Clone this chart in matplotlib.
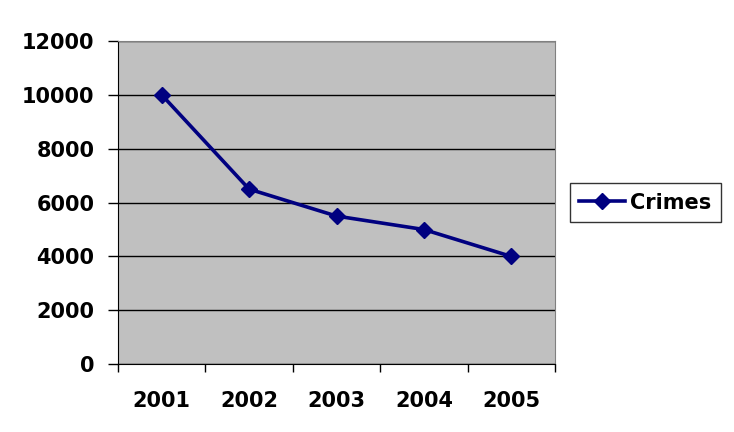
import matplotlib.pyplot as plt

years = ['2001', '2002', '2003', '2004', '2005']
crimes = [10000, 6500, 5500, 5000, 4000]

fig = plt.figure(figsize=(7.34, 4.32), dpi=100)
ax = fig.add_axes([0.1608, 0.157, 0.5954, 0.748])
ax.set_facecolor('#c0c0c0')

x = range(len(years))
ax.plot(x, crimes, color='#000080', lw=2.6, marker='D', markersize=8.5, label='Crimes', zorder=3)

ax.set_xlim(-0.5, len(years) - 0.5)
ax.set_ylim(0, 12000)
ax.set_yticks(range(0, 12001, 2000))
ax.yaxis.grid(True, color='black', lw=1)
ax.set_axisbelow(True)

# category ticks sit between the labels
ax.set_xticks([i - 0.5 for i in range(len(years) + 1)], minor=False)
ax.set_xticklabels([])
ax.set_xticks(list(x), minor=True)
ax.set_xticklabels(years, minor=True)
ax.tick_params(axis='x', which='major', length=6, width=1, direction='out')
ax.tick_params(axis='x', which='minor', length=0, pad=19)
ax.tick_params(axis='y', length=7, width=1, direction='out', pad=10)

for lab in ax.get_xticklabels(minor=True) + ax.get_yticklabels():
    lab.set_fontsize(15)
    lab.set_fontweight('bold')

for side in ['top', 'right']:
    ax.spines[side].set_color('#808080')
for side in ['left', 'bottom']:
    ax.spines[side].set_color('black')

leg = ax.legend(loc='center left', bbox_to_anchor=(1.034, 0.5), prop={'size': 15, 'weight': 'bold'},
                frameon=True, fancybox=False, edgecolor='black', borderpad=0.45,
                handlelength=2.2, handletextpad=0.25, borderaxespad=0)
leg.get_frame().set_linewidth(1)

fig.savefig('out.png', dpi=100)
